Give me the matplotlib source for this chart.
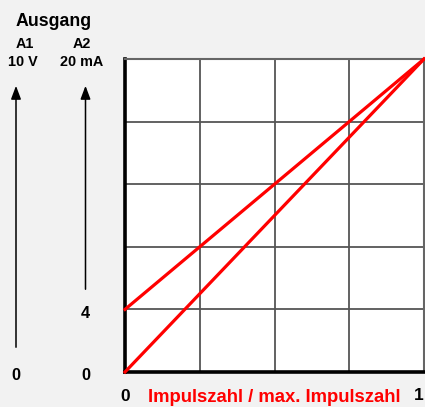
import matplotlib
matplotlib.use("Agg")
import matplotlib.pyplot as plt

# Kennlinien: Ausgang ueber Impulszahl / max. Impulszahl
x_ratio = [0, 1]
out_a1 = [0, 1]        # 0..10 V
out_a2 = [0.2, 1]      # 4..20 mA, relativ zu 20 mA
x_grid = [0, 0.25, 0.5, 0.75, 1]
y_grid = [0, 0.2, 0.4, 0.6, 0.8, 1]

plt.rcParams['font.family'] = ['Liberation Sans', 'DejaVu Sans']
plt.rcParams['font.weight'] = 'bold'

W, H = 425, 407
fig = plt.figure(figsize=(W / 100, H / 100), dpi=100, facecolor='#f2f2f2')

def fx(px):
    return px / W

def fy(py):
    return 1 - py / H

ax = fig.add_axes([fx(125), fy(372), fx(424) - fx(125), fy(59) - fy(372)])
ax.set_facecolor('white')
ax.set_xlim(0, 1)
ax.set_ylim(0, 1)
ax.set_xticks(x_grid)
ax.set_yticks(y_grid)
ax.tick_params(length=0, labelbottom=False, labelleft=False)
ax.grid(True, color='#555555', linewidth=1.3)
for s in ['top', 'right']:
    ax.spines[s].set_color('#666666')
    ax.spines[s].set_linewidth(1.5)
for s in ['left', 'bottom']:
    ax.spines[s].set_color('black')
    ax.spines[s].set_linewidth(2.6)

ax.plot(x_ratio, out_a1, color='#ff0000', linewidth=2.3, clip_on=False, zorder=3)
ax.plot(x_ratio, out_a2, color='#ff0000', linewidth=2.3, clip_on=False, zorder=3)

def label(x, y, s, size, color='black'):
    fig.text(fx(x), fy(y), s, ha='center', va='baseline', fontsize=size, color=color)

label(53.5, 26, 'Ausgang', 12.8)
label(25, 47.5, 'A1', 10.4)
label(82, 47.5, 'A2', 10.4)
label(22.5, 66.5, '10 V', 10.4)
label(82, 66.5, '20 mA', 10.4)
label(85.5, 318, '4', 11.8)
label(16, 380, '0', 11.8)
label(85.5, 380, '0', 11.8)
label(124.7, 401, '0', 12.5)
label(419, 400, '1', 12.5)
label(274, 402.5, 'Impulszahl / max. Impulszahl', 13.3, color='#ff0000')

# Pfeile
for xa, y0 in [(16, 350), (85.5, 292)]:
    fig.add_artist(matplotlib.patches.FancyArrowPatch(
        (fx(xa), fy(y0)), (fx(xa), fy(83)), transform=fig.transFigure,
        arrowstyle='-|>,head_length=8,head_width=3', linewidth=1.1,
        color='black', mutation_scale=1))

fig.savefig('out.png', dpi=100, facecolor=fig.get_facecolor())
